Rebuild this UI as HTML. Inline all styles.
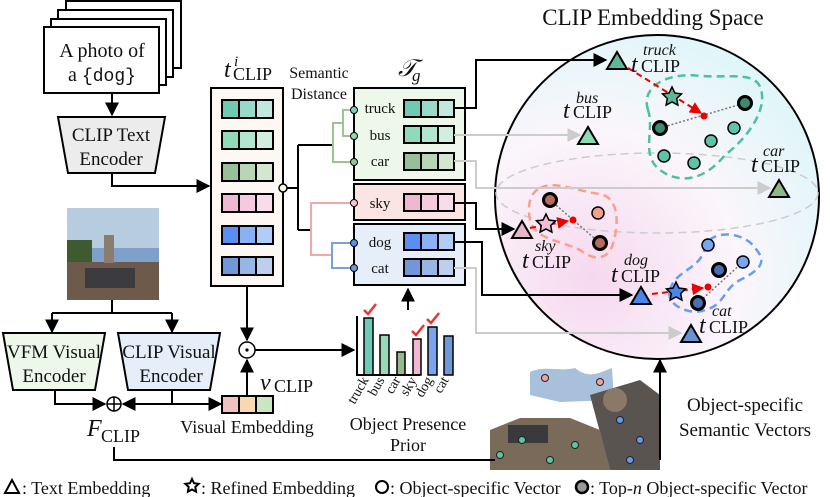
<!DOCTYPE html>
<html><head><meta charset="utf-8"><style>
html,body{margin:0;padding:0;background:#fff}
svg{display:block}
text{font-family:"Liberation Serif",serif;fill:#111}
</style></head><body>
<svg width="830" height="497" viewBox="0 0 830 497" xmlns="http://www.w3.org/2000/svg">
<defs>
<marker id="ab" viewBox="0 0 10 10" refX="9" refY="5" markerWidth="7" markerHeight="7" orient="auto-start-reverse"><path d="M0,0L10,5L0,10z" fill="#000"/></marker>
<marker id="ag" viewBox="0 0 10 10" refX="9" refY="5" markerWidth="7" markerHeight="7" orient="auto"><path d="M0,0L10,5L0,10z" fill="#ccc"/></marker>
<marker id="ar" viewBox="0 0 10 10" refX="9" refY="5" markerWidth="6" markerHeight="6" orient="auto"><path d="M0,0L10,5L0,10z" fill="#e00"/></marker>
<radialGradient id="sph" cx="0.3" cy="0.75" r="0.9">
<stop offset="0" stop-color="#f6d8ee"/><stop offset="0.5" stop-color="#fbf6fb"/><stop offset="1" stop-color="#d8f6f8"/></radialGradient>
</defs>

<g fill="#fff" stroke="#000" stroke-width="2">
<rect x="66" y="1" width="115" height="67"/>
<rect x="58" y="10" width="115" height="67"/>
<rect x="51" y="19" width="115" height="66"/>
<rect x="44" y="27" width="115" height="66"/>
</g>
<text x="102" y="57" font-size="20" text-anchor="middle">A photo of</text>
<text x="102" y="81" font-size="20" text-anchor="middle">a <tspan font-family="Liberation Mono,monospace" font-size="18">{dog}</tspan></text>
<line x1="112" y1="93" x2="112" y2="115" stroke="#000" stroke-width="2" marker-end="url(#ab)"/>
<path d="M58,117H165L155,173H68Z" fill="#ececec" stroke="#000" stroke-width="2"/>
<text x="111" y="141" font-size="19" text-anchor="middle">CLIP Text</text>
<text x="111" y="165" font-size="19" text-anchor="middle">Encoder</text>
<path d="M112,173V186H209" fill="none" stroke="#000" stroke-width="2" marker-end="url(#ab)"/>

<rect x="67" y="208" width="92" height="92" fill="#7fa0c8"/>
<rect x="67" y="208" width="92" height="40" fill="#b8cce0"/>
<rect x="67" y="240" width="25" height="30" fill="#3e5a30"/>
<rect x="67" y="262" width="92" height="38" fill="#6e5a4a"/>
<rect x="85" y="268" width="50" height="20" fill="#3c3c40"/>
<rect x="104" y="235" width="10" height="28" fill="#8a7d70"/>

<text x="224" y="77" font-size="24" font-style="italic">t</text>
<text x="234" y="66" font-size="15" font-style="italic">i</text>
<text x="233" y="80" font-size="18">CLIP</text>
<rect x="211" y="88" width="72" height="198" fill="#fdf8f4" stroke="#000" stroke-width="2"/>
<g stroke="#000" stroke-width="2">
<rect x="222" y="100" width="17" height="18" fill="#6fcab4"/><rect x="239" y="100" width="17" height="18" fill="#99d9c8"/><rect x="256" y="100" width="17" height="18" fill="#c0e8de"/>
<rect x="222" y="131" width="17" height="18" fill="#90dab8"/><rect x="239" y="131" width="17" height="18" fill="#b2e5cd"/><rect x="256" y="131" width="17" height="18" fill="#d0efe1"/>
<rect x="222" y="163" width="17" height="18" fill="#98c098"/><rect x="239" y="163" width="17" height="18" fill="#b8d6b4"/><rect x="256" y="163" width="17" height="18" fill="#d2e6d0"/>
<rect x="222" y="194" width="17" height="18" fill="#f0b8d0"/><rect x="239" y="194" width="17" height="18" fill="#f3cade"/><rect x="256" y="194" width="17" height="18" fill="#f8dce9"/>
<rect x="222" y="226" width="17" height="18" fill="#5a8ef0"/><rect x="239" y="226" width="17" height="18" fill="#8cb0f5"/><rect x="256" y="226" width="17" height="18" fill="#b2ccf8"/>
<rect x="222" y="257" width="17" height="18" fill="#7098d8"/><rect x="239" y="257" width="17" height="18" fill="#98b6e4"/><rect x="256" y="257" width="17" height="18" fill="#bcd0ee"/>
</g>
<path d="M286,188H298M298,145V230M298,145H333M298,230H311" fill="none" stroke="#000" stroke-width="2"/>
<circle cx="283" cy="188" r="4" fill="#fffbe0" stroke="#000" stroke-width="1.5"/>
<text x="319" y="78" font-size="16" text-anchor="middle">Semantic</text>
<text x="319" y="99" font-size="16" text-anchor="middle">Distance</text>

<text x="398" y="76" font-size="24" font-style="italic">𝒯</text>
<text x="412" y="81" font-size="17" font-style="italic">g</text>
<rect x="354" y="88" width="111" height="92" fill="#eef8ea" stroke="#000" stroke-width="2"/>
<rect x="354" y="184" width="111" height="36" fill="#fbe4e4" stroke="#000" stroke-width="2"/>
<rect x="354" y="224" width="111" height="61" fill="#e6eefa" stroke="#000" stroke-width="2"/>
<g font-size="15" text-anchor="middle">
<text x="380" y="113">truck</text><text x="380" y="140">bus</text><text x="380" y="166">car</text>
<text x="380" y="208">sky</text><text x="380" y="247">dog</text><text x="380" y="273">cat</text>
</g>
<g stroke="#000" stroke-width="2">
<rect x="404" y="100" width="17" height="17" fill="#6fcab4"/><rect x="421" y="100" width="17" height="17" fill="#99d9c8"/><rect x="438" y="100" width="16" height="17" fill="#c0e8de"/>
<rect x="404" y="126" width="17" height="17" fill="#90dab8"/><rect x="421" y="126" width="17" height="17" fill="#b2e5cd"/><rect x="438" y="126" width="16" height="17" fill="#d0efe1"/>
<rect x="404" y="153" width="17" height="17" fill="#98c098"/><rect x="421" y="153" width="17" height="17" fill="#b8d6b4"/><rect x="438" y="153" width="16" height="17" fill="#d2e6d0"/>
<rect x="404" y="194" width="17" height="17" fill="#f0b8d0"/><rect x="421" y="194" width="17" height="17" fill="#f3cade"/><rect x="438" y="194" width="16" height="17" fill="#f8dce9"/>
<rect x="404" y="233" width="17" height="17" fill="#5a8ef0"/><rect x="421" y="233" width="17" height="17" fill="#8cb0f5"/><rect x="438" y="233" width="16" height="17" fill="#b2ccf8"/>
<rect x="404" y="259" width="17" height="17" fill="#7098d8"/><rect x="421" y="259" width="17" height="17" fill="#98b6e4"/><rect x="438" y="259" width="16" height="17" fill="#bcd0ee"/>
</g>
<path d="M354,110H343V136H354M343,123H333V162H354" fill="none" stroke="#98c890" stroke-width="2"/>
<path d="M354,203H311V255H332" fill="none" stroke="#f0a8a8" stroke-width="2"/>
<path d="M354,243H332V268H354" fill="none" stroke="#7aa0d8" stroke-width="2"/>
<g stroke="#000" stroke-width="1">
<circle cx="354" cy="110" r="3.5" fill="#7fd0b8"/><circle cx="354" cy="136" r="3.5" fill="#90dab0"/><circle cx="354" cy="162" r="3.5" fill="#98c098"/>
<circle cx="354" cy="203" r="3.5" fill="#f6c6d6"/><circle cx="354" cy="243" r="3.5" fill="#5a8ef0"/><circle cx="354" cy="268" r="3.5" fill="#7098d8"/>
</g>
<line x1="408" y1="310" x2="408" y2="289" stroke="#000" stroke-width="2" marker-end="url(#ab)"/>

<text x="653" y="25" font-size="23" text-anchor="middle">CLIP Embedding Space</text>
<circle cx="657" cy="197" r="162" fill="url(#sph)" stroke="#000" stroke-width="2"/>
<ellipse cx="657" cy="193" rx="161" ry="40" fill="none" stroke="#ccc" stroke-width="1.5" stroke-dasharray="8,5"/>
<path d="M648,110C640,85 670,72 700,76C735,78 760,70 762,95C764,115 745,140 725,155C705,180 680,185 660,170C640,155 655,130 648,110Z" fill="none" stroke="#4cc0a0" stroke-width="2.5" stroke-dasharray="8,5"/>
<path d="M540,188C555,180 580,192 600,194C620,198 618,225 614,240C610,260 595,262 580,250C560,240 535,240 530,220C527,205 530,193 540,188Z" fill="none" stroke="#f7a090" stroke-width="2.5" stroke-dasharray="8,5"/>
<path d="M670,290C675,270 700,270 705,248C710,228 745,232 755,248C768,262 760,270 740,280C722,290 725,305 705,310C690,316 665,305 670,290Z" fill="none" stroke="#6a9cf0" stroke-width="2.5" stroke-dasharray="8,5"/>
<path d="M454,108H476V60H606" fill="none" stroke="#000" stroke-width="2" marker-end="url(#ab)"/>
<path d="M454,135H580" fill="none" stroke="#ccc" stroke-width="2" marker-end="url(#ag)"/>
<path d="M454,161H476V188H770" fill="none" stroke="#ccc" stroke-width="2" marker-end="url(#ag)"/>
<path d="M454,203H476V229H514" fill="none" stroke="#000" stroke-width="2" marker-end="url(#ab)"/>
<path d="M454,242H482V295H632" fill="none" stroke="#000" stroke-width="2" marker-end="url(#ab)"/>
<path d="M454,268H476V333H681" fill="none" stroke="#ccc" stroke-width="2" marker-end="url(#ag)"/>
<path d="M660,128L745,103M550,200L600,243M743,262L698,303" stroke="#777" stroke-width="1.5" stroke-dasharray="2,2" fill="none"/>
<path d="M628,68L701,113" stroke="#e00" stroke-width="2" stroke-dasharray="6,4" fill="none" marker-end="url(#ar)"/>
<path d="M530,228L568,221" stroke="#e00" stroke-width="2" stroke-dasharray="6,4" fill="none" marker-end="url(#ar)"/>
<path d="M652,294L703,288" stroke="#e00" stroke-width="2" stroke-dasharray="6,4" fill="none" marker-end="url(#ar)"/>
<circle cx="704" cy="116" r="3.5" fill="#e00"/><circle cx="573" cy="220" r="3.5" fill="#e00"/><circle cx="708" cy="287" r="3.5" fill="#e00"/>
<g stroke="#000" stroke-width="2">
<circle cx="660" cy="128" r="6.5" fill="#3d8a70" stroke-width="3"/><circle cx="745" cy="103" r="6.5" fill="#3d8a70" stroke-width="3"/>
<circle cx="734" cy="128" r="6" fill="#5cc4a8" stroke-width="1.5"/><circle cx="711" cy="141" r="6" fill="#5cc4a8" stroke-width="1.5"/>
<circle cx="664" cy="156" r="6" fill="#5cc4a8" stroke-width="1.5"/><circle cx="694" cy="163" r="6" fill="#5cc4a8" stroke-width="1.5"/>
<circle cx="550" cy="200" r="6.5" fill="#b86a60" stroke-width="3"/><circle cx="600" cy="243" r="6.5" fill="#b86a60" stroke-width="3"/>
<circle cx="598" cy="213" r="6" fill="#f4a090" stroke-width="1.5"/>
<circle cx="719" cy="270" r="6.5" fill="#4a6eb0" stroke-width="3"/><circle cx="698" cy="303" r="6.5" fill="#4a6eb0" stroke-width="3"/>
<circle cx="708" cy="245" r="6" fill="#78a6f0" stroke-width="1.5"/><circle cx="743" cy="262" r="6" fill="#78a6f0" stroke-width="1.5"/>
</g>
<g stroke="#000" stroke-width="2">
<path d="M617,52L627,69H607Z" fill="#5cb898"/>
<path d="M588,127L598,144H578Z" fill="#8fd8b4"/>
<path d="M779,180L789,197H769Z" fill="#8fb888"/>
<path d="M522,221L532,238H512Z" fill="#e8b4c8"/>
<path d="M641,287L651,304H631Z" fill="#4a86e8"/>
<path d="M691,325L701,342H681Z" fill="#6a92d4"/>
</g>
<g stroke="#000" stroke-width="1.5">
<path transform="translate(672,97)" d="M0,-10L2.9,-4 9.5,-3.1 4.7,1.5 5.9,8.1 0,5 -5.9,8.1 -4.7,1.5 -9.5,-3.1 -2.9,-4Z" fill="#5cb898"/>
<path transform="translate(546,224)" d="M0,-10L2.9,-4 9.5,-3.1 4.7,1.5 5.9,8.1 0,5 -5.9,8.1 -4.7,1.5 -9.5,-3.1 -2.9,-4Z" fill="#f0c0d4"/>
<path transform="translate(676,292)" d="M0,-10L2.9,-4 9.5,-3.1 4.7,1.5 5.9,8.1 0,5 -5.9,8.1 -4.7,1.5 -9.5,-3.1 -2.9,-4Z" fill="#4a86e8"/>
</g>
<g font-size="24" font-style="italic">
<text x="631" y="72">t</text><text x="563" y="118">t</text><text x="751" y="172">t</text>
<text x="522" y="268">t</text><text x="611" y="282">t</text><text x="699" y="333">t</text>
</g>
<g font-size="18">
<text x="641" y="72">CLIP</text><text x="573" y="118">CLIP</text><text x="761" y="172">CLIP</text>
<text x="532" y="268">CLIP</text><text x="621" y="282">CLIP</text><text x="709" y="333">CLIP</text>
</g>
<g font-size="16" font-style="italic">
<text x="643" y="55">truck</text><text x="576" y="103">bus</text><text x="763" y="156">car</text>
<text x="535" y="251">sky</text><text x="624" y="265">dog</text><text x="712" y="316">cat</text>
</g>

<path d="M112,300V313M52,313H172" fill="none" stroke="#000" stroke-width="2"/>
<line x1="52" y1="313" x2="52" y2="332" stroke="#000" stroke-width="2" marker-end="url(#ab)"/>
<line x1="172" y1="313" x2="172" y2="332" stroke="#000" stroke-width="2" marker-end="url(#ab)"/>
<path d="M3,333H105L95,390H13Z" fill="#eef8ea" stroke="#000" stroke-width="2"/>
<path d="M118,333H220L210,390H128Z" fill="#e6eefa" stroke="#000" stroke-width="2"/>
<text x="54" y="358" font-size="19" text-anchor="middle">VFM Visual</text>
<text x="54" y="382" font-size="19" text-anchor="middle">Encoder</text>
<text x="169" y="358" font-size="19" text-anchor="middle">CLIP Visual</text>
<text x="171" y="382" font-size="19" text-anchor="middle">Encoder</text>
<path d="M55,390V404H105" fill="none" stroke="#000" stroke-width="2" marker-end="url(#ab)"/>
<path d="M172,390V404" fill="none" stroke="#000" stroke-width="2"/>
<line x1="172" y1="404" x2="123" y2="404" stroke="#000" stroke-width="2" marker-end="url(#ab)"/>
<line x1="172" y1="404" x2="221" y2="404" stroke="#000" stroke-width="2" marker-end="url(#ab)"/>
<circle cx="114" cy="404" r="7" fill="#fff" stroke="#000" stroke-width="1.5"/>
<path d="M107,404H121M114,397V411" stroke="#000" stroke-width="1.5"/>
<text x="87" y="436" font-size="24" font-style="italic">F</text>
<text x="101" y="442" font-size="18">CLIP</text>
<g stroke="#000" stroke-width="2">
<rect x="222" y="396" width="17" height="17" fill="#f3c0c0"/><rect x="239" y="396" width="17" height="17" fill="#f8d8b0"/><rect x="256" y="396" width="17" height="17" fill="#c8e6c0"/>
</g>
<text x="247" y="433" font-size="18" text-anchor="middle">Visual Embedding</text>
<text x="260" y="390" font-size="24" font-style="italic">v</text>
<text x="274" y="392" font-size="18">CLIP</text>
<line x1="247" y1="396" x2="247" y2="360" stroke="#000" stroke-width="2" marker-end="url(#ab)"/>
<line x1="247" y1="286" x2="247" y2="340" stroke="#000" stroke-width="2" marker-end="url(#ab)"/>
<circle cx="247" cy="350" r="8" fill="#fff" stroke="#000" stroke-width="1.5"/>
<circle cx="247" cy="350" r="1.6" fill="#000"/>
<line x1="255" y1="350" x2="354" y2="350" stroke="#000" stroke-width="2" marker-end="url(#ab)"/>

<g stroke="#000" stroke-width="1.5">
<rect x="364" y="318" width="9" height="57" fill="#6fcab4"/>
<rect x="380" y="335" width="9" height="40" fill="#9ad8b8"/>
<rect x="397" y="352" width="8" height="23" fill="#98b890"/>
<rect x="413" y="339" width="8" height="36" fill="#f0b8d4"/>
<rect x="428" y="327" width="9" height="48" fill="#7aa4ee"/>
<rect x="444" y="336" width="9" height="39" fill="#7098d8"/>
</g>
<path d="M357,316V375H420" fill="none" stroke="#000" stroke-width="2"/>
<g stroke="#e33" stroke-width="2.5" fill="none">
<path d="M364,310L368,314L376,304"/><path d="M412,331L416,335L424,325"/><path d="M427,319L431,323L439,313"/>
</g>
<g font-size="14">
<text transform="translate(369,380) rotate(-60)" text-anchor="end">truck</text>
<text transform="translate(385,380) rotate(-60)" text-anchor="end">bus</text>
<text transform="translate(401,380) rotate(-60)" text-anchor="end">car</text>
<text transform="translate(417,380) rotate(-60)" text-anchor="end">sky</text>
<text transform="translate(433,380) rotate(-60)" text-anchor="end">dog</text>
<text transform="translate(449,380) rotate(-60)" text-anchor="end">cat</text>
</g>
<text x="408" y="430" font-size="18" text-anchor="middle">Object Presence</text>
<text x="408" y="451" font-size="18" text-anchor="middle">Prior</text>

<g>
<path d="M530,372C545,365 560,372 575,368C590,380 600,372 612,368L614,400 560,402 530,395Z" fill="#a8c0dc"/>
<path d="M590,395 L640,380 L660,395 L660,470 L610,470Z" fill="#5a5450"/>
<path d="M490,430L520,418 570,418 600,430 610,470 490,470Z" fill="#7a6a5a"/>
<rect x="508" y="425" width="40" height="18" fill="#3a3a3c"/>
<circle cx="615" cy="400" r="12" fill="#8a7868"/>
<g fill="#60c4a0" stroke="#222" stroke-width="1"><circle cx="500" cy="455" r="3.5"/><circle cx="522" cy="440" r="3.5"/><circle cx="550" cy="460" r="3.5"/><circle cx="575" cy="445" r="3.5"/></g>
<g fill="#6a98e8" stroke="#222" stroke-width="1"><circle cx="620" cy="420" r="3.5"/><circle cx="640" cy="440" r="3.5"/><circle cx="630" cy="460" r="3.5"/></g>
<g fill="#f3a0a0" stroke="#222" stroke-width="1"><circle cx="545" cy="378" r="3.5"/><circle cx="600" cy="382" r="3.5"/></g>
</g>
<path d="M114,447V460H495" fill="none" stroke="#000" stroke-width="2"/>
<path d="M660,460V360" fill="none" stroke="#000" stroke-width="2" marker-end="url(#ab)"/>
<text x="745" y="411" font-size="19" text-anchor="middle">Object-specific</text>
<text x="745" y="436" font-size="19" text-anchor="middle">Semantic Vectors</text>

<path d="M12,480L19,493H5Z" fill="#fff" stroke="#000" stroke-width="2"/>
<text x="22" y="494" font-size="18">: Text Embedding</text>
<path transform="translate(192,486)" d="M0,-7L2,-2.8 6.7,-2.2 3.3,1 4.1,5.7 0,3.5 -4.1,5.7 -3.3,1 -6.7,-2.2 -2,-2.8Z" fill="#fff" stroke="#000" stroke-width="2"/>
<text x="201" y="494" font-size="18">: Refined Embedding</text>
<circle cx="382" cy="487" r="6" fill="#fff" stroke="#000" stroke-width="2"/>
<text x="390" y="494" font-size="18">: Object-specific Vector</text>
<circle cx="582" cy="487" r="6" fill="#999" stroke="#000" stroke-width="2.5"/>
<text x="590" y="494" font-size="18">: Top-<tspan font-style="italic">n</tspan> Object-specific Vector</text>
</svg>
</body></html>
